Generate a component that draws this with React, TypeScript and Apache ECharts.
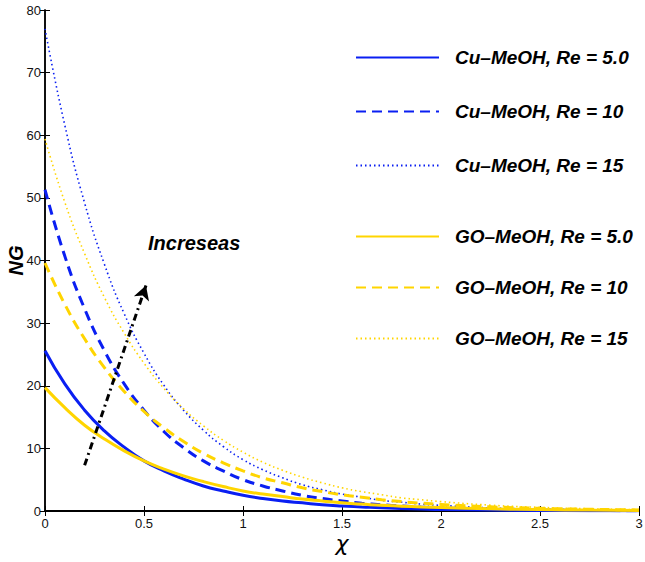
import React, { useEffect, useRef } from "react";
import * as echarts from "echarts";

const chiValues = [0, 0.1, 0.2, 0.3, 0.4, 0.5, 0.6, 0.7, 0.8, 0.9, 1.0, 1.1, 1.2, 1.3, 1.4, 1.5, 1.6, 1.7, 1.8, 1.9, 2.0, 2.25, 2.5, 2.75, 3.0];

const cuRe5 = [25.6, 20.3, 16.1, 12.8, 10.2, 8.0, 6.4, 5.1, 4.0, 3.2, 2.5, 2.0, 1.6, 1.3, 1.0, 0.8, 0.65, 0.5, 0.4, 0.32, 0.25, 0.15, 0.08, 0.05, 0.03];
const cuRe10 = [51.3, 40.7, 32.3, 25.6, 20.3, 16.1, 12.7, 10.1, 8.0, 6.4, 5.0, 4.0, 3.2, 2.5, 2.0, 1.6, 1.25, 1.0, 0.8, 0.62, 0.5, 0.28, 0.15, 0.08, 0.05];
const cuRe15 = [77.0, 61.6, 49.2, 39.4, 31.5, 25.2, 20.1, 16.1, 12.9, 10.3, 8.2, 6.6, 5.3, 4.2, 3.4, 2.7, 2.2, 1.7, 1.4, 1.1, 0.9, 0.5, 0.3, 0.17, 0.1];
const goRe5 = [19.7, 16.5, 13.7, 11.5, 9.6, 8.0, 6.7, 5.6, 4.7, 3.9, 3.2, 2.7, 2.3, 1.9, 1.6, 1.3, 1.1, 0.9, 0.77, 0.64, 0.54, 0.34, 0.22, 0.14, 0.09];
const goRe10 = [39.6, 33.0, 27.5, 22.9, 19.1, 15.9, 13.3, 11.1, 9.2, 7.7, 6.4, 5.3, 4.5, 3.7, 3.1, 2.6, 2.2, 1.8, 1.5, 1.25, 1.05, 0.66, 0.42, 0.27, 0.17];
const goRe15 = [59.4, 49.3, 41.1, 34.1, 28.4, 23.6, 19.6, 16.3, 13.6, 11.3, 9.4, 7.8, 6.5, 5.4, 4.5, 3.7, 3.1, 2.6, 2.1, 1.8, 1.5, 0.93, 0.58, 0.36, 0.23];

const cuNames = ["Cu–MeOH, Re = 5.0", "Cu–MeOH, Re = 10", "Cu–MeOH, Re = 15"];
const goNames = ["GO–MeOH, Re = 5.0", "GO–MeOH, Re = 10", "GO–MeOH, Re = 15"];

const arrowStart = [0.2, 7.3];
const arrowEnd = [0.51, 36];
const annotationText = "Increseas";

const BLUE = "#0a1ff2";
const YELLOW = "#ffd500";
const FONT = "'Liberation Sans', Arial, sans-serif";

function toData(vals: number[]) {
  return chiValues.map((x, i) => [x, vals[i]]);
}

export default function App() {
  const ref = useRef<HTMLDivElement>(null);
  useEffect(() => {
    if (!ref.current) return;
    const chart = echarts.init(ref.current, undefined, { renderer: "svg" });
    const solid = { type: "solid" as const, width: 3 };
    const dashed = { type: [10, 6], width: 3 };
    const dotted = { type: [1.5, 3], width: 1.6 };
    const mk = (name: string, vals: number[], color: string, ls: any, extra: any = {}) => ({
      name,
      type: "line",
      data: toData(vals),
      smooth: true,
      showSymbol: false,
      symbol: "none",
      color,
      lineStyle: { ...ls, color },
      z: 3,
      ...extra,
    });
    const legendText = {
      fontSize: 19,
      fontWeight: "bold",
      fontStyle: "italic",
      fontFamily: FONT,
      color: "#000",
      padding: [0, 0, 0, 11],
    };
    const legendBase = {
      orient: "vertical",
      left: 350,
      itemWidth: 83,
      itemHeight: 14,
      textStyle: legendText,
      selectedMode: false,
      itemStyle: { opacity: 0 },
    };
    const tickLabel = { fontSize: 13, fontFamily: FONT, color: "#111" };
    chart.setOption({
      animation: false,
      backgroundColor: "#fff",
      grid: { left: 45, right: 6, top: 10, bottom: 51, containLabel: false, outerBoundsMode: "none" },
      legend: [
        { ...legendBase, data: cuNames, top: 43, itemGap: 35 },
        { ...legendBase, data: goNames, top: 222, itemGap: 32 },
      ],
      xAxis: [
        {
          type: "value",
          min: 0,
          max: 3,
          interval: 0.5,
          position: "bottom",
          name: "χ",
          nameLocation: "middle",
          nameGap: 21,
          nameMoveOverlap: false,
          nameTextStyle: { fontSize: 22, fontFamily: "'DejaVu Sans', sans-serif", fontStyle: "italic", color: "#000" },
          axisLine: { show: true, lineStyle: { color: "#000", width: 2 } },
          axisTick: { show: true, inside: true, length: 5, lineStyle: { color: "#000" } },
          axisLabel: {
            ...tickLabel,
            margin: 6,
            formatter: (v: number) => String(v),
          },
          splitLine: { show: false },
        },
        {
          type: "value",
          min: 0,
          max: 3,
          interval: 0.5,
          position: "top",
          axisLine: { show: true, lineStyle: { color: "#000", width: 1.5 } },
          axisTick: { show: true, inside: true, length: 5, lineStyle: { color: "#000" } },
          axisLabel: { show: false },
          splitLine: { show: false },
        },
      ],
      yAxis: [
        {
          type: "value",
          min: 0,
          max: 80,
          interval: 10,
          position: "left",
          name: "NG",
          nameLocation: "middle",
          nameGap: 19,
          nameMoveOverlap: false,
          nameRotate: 90,
          nameTextStyle: {
            fontSize: 20,
            fontWeight: "bold",
            fontStyle: "italic",
            fontFamily: FONT,
            color: "#000",
          },
          axisLine: { show: true, lineStyle: { color: "#000", width: 1.5 } },
          axisTick: { show: true, inside: true, length: 5, lineStyle: { color: "#000" } },
          axisLabel: { ...tickLabel, margin: 4 },
          splitLine: { show: false },
        },
        {
          type: "value",
          min: 0,
          max: 80,
          interval: 10,
          position: "right",
          axisLine: { show: true, lineStyle: { color: "#000", width: 1.5 } },
          axisTick: { show: true, inside: true, length: 5, lineStyle: { color: "#000" } },
          axisLabel: { show: false },
          splitLine: { show: false },
        },
      ],
      series: [
        mk(cuNames[0], cuRe5, BLUE, solid, {
          markLine: {
            silent: true,
            symbol: ["none", "arrow"],
            symbolSize: [12, 14],
            label: { show: false },
            lineStyle: { color: "#000", width: 3, type: [7, 4, 2, 4] },
            data: [[{ coord: arrowStart }, { coord: arrowEnd }]],
            z: 10,
          },
        }),
        mk(cuNames[1], cuRe10, BLUE, dashed),
        mk(cuNames[2], cuRe15, BLUE, dotted),
        mk(goNames[0], goRe5, YELLOW, solid),
        mk(goNames[1], goRe10, YELLOW, dashed),
        mk(goNames[2], goRe15, YELLOW, dotted),
      ],
      graphic: [
        {
          type: "text",
          left: 148,
          top: 233,
          style: {
            text: annotationText,
            fontSize: 20,
            fontWeight: "bold",
            fontStyle: "italic",
            fontFamily: FONT,
            fill: "#000",
          },
        },
      ],
    });
    return () => chart.dispose();
  }, []);
  return (
    <div
      ref={ref}
      style={{ position: "fixed", left: 0, top: 0, width: 645, height: 562, background: "#fff" }}
    />
  );
}
